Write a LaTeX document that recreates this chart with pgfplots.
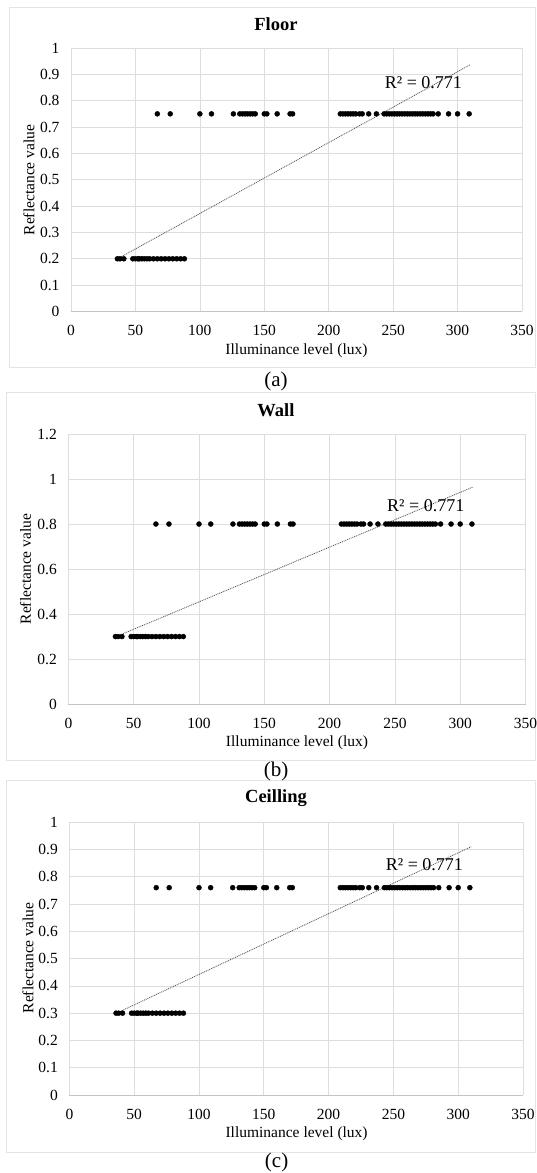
\documentclass[border=0pt]{standalone}
\usepackage{fontspec}
\setmainfont{Liberation Serif}
\usepackage{pgfplots}
\usepackage{pgfplotstable}
\pgfplotsset{compat=1.18}
\definecolor{gridc}{HTML}{DDDDDD}
\definecolor{framec}{HTML}{E4E4E4}
\definecolor{axc}{HTML}{C4C4C4}
\definecolor{trend}{HTML}{555555}

\pgfplotstableread{
x a b c
67 0.75 0.8 0.76
77 0.75 0.8 0.76
100 0.75 0.8 0.76
109 0.75 0.8 0.76
126 0.75 0.8 0.76
131 0.75 0.8 0.76
133 0.75 0.8 0.76
135 0.75 0.8 0.76
137 0.75 0.8 0.76
139 0.75 0.8 0.76
141 0.75 0.8 0.76
143 0.75 0.8 0.76
150 0.75 0.8 0.76
152 0.75 0.8 0.76
160 0.75 0.8 0.76
170 0.75 0.8 0.76
172 0.75 0.8 0.76
209 0.75 0.8 0.76
211 0.75 0.8 0.76
213 0.75 0.8 0.76
215 0.75 0.8 0.76
217 0.75 0.8 0.76
219 0.75 0.8 0.76
221 0.75 0.8 0.76
224 0.75 0.8 0.76
226 0.75 0.8 0.76
231 0.75 0.8 0.76
237 0.75 0.8 0.76
243 0.75 0.8 0.76
245 0.75 0.8 0.76
247 0.75 0.8 0.76
249 0.75 0.8 0.76
251 0.75 0.8 0.76
253 0.75 0.8 0.76
255 0.75 0.8 0.76
257 0.75 0.8 0.76
259 0.75 0.8 0.76
261 0.75 0.8 0.76
263 0.75 0.8 0.76
265 0.75 0.8 0.76
267 0.75 0.8 0.76
269 0.75 0.8 0.76
271 0.75 0.8 0.76
273 0.75 0.8 0.76
275 0.75 0.8 0.76
277 0.75 0.8 0.76
279 0.75 0.8 0.76
281 0.75 0.8 0.76
285 0.75 0.8 0.76
293 0.75 0.8 0.76
300 0.75 0.8 0.76
309 0.75 0.8 0.76
}\high

\pgfplotstableread{
x a b c
36 0.2 0.3 0.3
38 0.2 0.3 0.3
41 0.2 0.3 0.3
48 0.2 0.3 0.3
50 0.2 0.3 0.3
52 0.2 0.3 0.3
53 0.2 0.3 0.3
55 0.2 0.3 0.3
57 0.2 0.3 0.3
59 0.2 0.3 0.3
61 0.2 0.3 0.3
64 0.2 0.3 0.3
67 0.2 0.3 0.3
70 0.2 0.3 0.3
73 0.2 0.3 0.3
76 0.2 0.3 0.3
79 0.2 0.3 0.3
82 0.2 0.3 0.3
85 0.2 0.3 0.3
88 0.2 0.3 0.3
}\low

\pgfplotstableread{
x a b c
35 0.197 0.296 0.297
310 0.937 0.965 0.910
}\trendtab

\pgfplotsset{
  excel/.style={
    scale only axis,
    anchor=south west,
    xmin=0, xmax=350,
    xtick={0,50,100,150,200,250,300,350},
    grid=major,
    major grid style={gridc, line width=0.7pt},
    axis x line*=bottom,
    axis y line*=left,
    x axis line style={axc, line width=0.9pt},
    y axis line style={draw=none},
    major tick length=0pt,
    tick label style={font=\fontsize{15.5}{17}\selectfont},
    /pgf/number format/assume math mode=true,
    xticklabel style={anchor=center, yshift=-19pt},
    yticklabel style={xshift=-8pt},
    clip=false,
  },
  dots/.style={only marks, mark=*, mark size=2.5pt, black},
  trendl/.style={no marks, trend, line width=0.8pt, dash pattern=on 1pt off 0.9pt},
}

\newcommand{\lab}{\fontsize{15.5}{17}\selectfont}
\newcommand{\ttl}{\bfseries\fontsize{18.5}{20}\selectfont}
\newcommand{\rr}{\fontsize{18}{20}\selectfont}
\newcommand{\capf}{\fontsize{21}{23}\selectfont}

\begin{document}
\begin{tikzpicture}
\useasboundingbox (0,0) rectangle (536pt,1173pt);

% frames
\draw[framec, line width=0.8pt] (9.6pt,806pt) rectangle (535.6pt,1166pt);
\draw[framec, line width=0.8pt] (6pt,413pt) rectangle (535.6pt,781pt);
\draw[framec, line width=0.8pt] (6.8pt,20.5pt) rectangle (535.6pt,392.5pt);

% (a) Floor
\begin{axis}[excel, at={(71pt,861.5pt)}, width=451pt, height=263.5pt,
  ymin=0, ymax=1, ytick={0,0.1,0.2,0.3,0.4,0.5,0.6,0.7,0.8,0.9,1}]
\addplot[trendl] table[x=x,y=a]{\trendtab};
\addplot[dots] table[x=x,y=a]{\high};
\addplot[dots] table[x=x,y=a]{\low};
\node[font=\rr] at (axis cs:273.5,0.867) {R² = 0.771};
\end{axis}
\node[font=\ttl] at (276pt,1149pt) {Floor};
\node[font=\lab] at (296.5pt,822.6pt) {Illuminance level (lux)};
\node[font=\lab, rotate=90] at (29pt,993pt) {Reflectance value};
\node[font=\capf] at (276pt,792pt) {(a)};

% (b) Wall
\begin{axis}[excel, at={(68.4pt,468.9pt)}, width=457.1pt, height=270.1pt,
  ymin=0, ymax=1.2, ytick={0,0.2,0.4,0.6,0.8,1,1.2}]
\addplot[trendl] table[x=x,y=b]{\trendtab};
\addplot[dots] table[x=x,y=b]{\high};
\addplot[dots] table[x=x,y=b]{\low};
\node[font=\rr] at (axis cs:273.6,0.882) {R² = 0.771};
\end{axis}
\node[font=\ttl] at (276pt,763pt) {Wall};
\node[font=\lab] at (297pt,430pt) {Illuminance level (lux)};
\node[font=\lab, rotate=90] at (25.6pt,604pt) {Reflectance value};
\node[font=\capf] at (276pt,402pt) {(b)};

% (c) Ceilling
\begin{axis}[excel, at={(69.4pt,78pt)}, width=453.6pt, height=272.8pt,
  ymin=0, ymax=1, ytick={0,0.1,0.2,0.3,0.4,0.5,0.6,0.7,0.8,0.9,1}]
\addplot[trendl] table[x=x,y=c]{\trendtab};
\addplot[dots] table[x=x,y=c]{\high};
\addplot[dots] table[x=x,y=c]{\low};
\node[font=\rr] at (axis cs:273.9,0.846) {R² = 0.771};
\end{axis}
\node[font=\ttl] at (276pt,374.7pt) {Ceilling};
\node[font=\lab] at (296.6pt,39.3pt) {Illuminance level (lux)};
\node[font=\lab, rotate=90] at (28pt,215pt) {Reflectance value};
\node[font=\capf] at (276.6pt,10.5pt) {(c)};
\end{tikzpicture}
\end{document}
